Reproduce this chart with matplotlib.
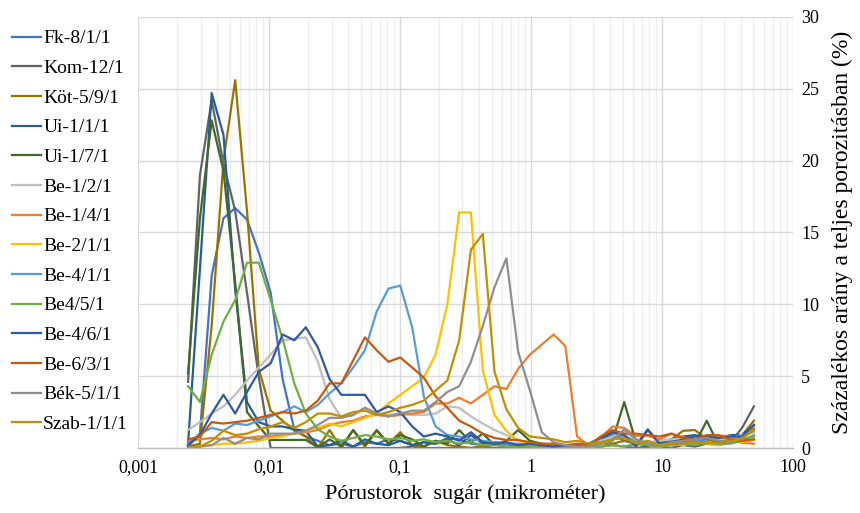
import matplotlib
matplotlib.use("Agg")
import matplotlib.pyplot as plt
from matplotlib.ticker import FixedLocator, NullFormatter

plt.rcParams['font.family'] = ['Liberation Serif', 'DejaVu Serif']

# pore throat radius (micrometre)
radius = [0.00241, 0.00297, 0.00365, 0.00449, 0.00552, 0.00679, 0.00836, 0.0103,
          0.0127, 0.0156, 0.0191, 0.0236, 0.029, 0.0357, 0.0439, 0.054, 0.0664,
          0.0817, 0.1005, 0.124, 0.152, 0.187, 0.230, 0.283, 0.348, 0.429, 0.527,
          0.649, 0.798, 0.982, 1.21, 1.49, 1.83, 2.25, 2.77, 3.40, 4.19, 5.15,
          6.34, 7.80, 9.59, 11.8, 14.5, 17.9, 22.0, 27.0, 33.3, 40.9, 50.4]

names = ['Fk-8/1/1', 'Kom-12/1', 'Köt-5/9/1', 'Ui-1/1/1', 'Ui-1/7/1', 'Be-1/2/1',
         'Be-1/4/1', 'Be-2/1/1', 'Be-4/1/1', 'Be4/5/1', 'Be-4/6/1', 'Be-6/3/1',
         'Bék-5/1/1', 'Szab-1/1/1']

fk_8_1_1 = [0.1, 1.0, 12.0, 16.0, 16.7, 15.9, 13.6, 10.8, 4.8, 1.3,
            0.8, 0.5, 0.2, 0.3, 0.1, 0.4, 0.3, 0.6, 0.5, 0.2, 0.4, 0.3, 0.7, 0.6, 0.3,
            0.2, 0.4, 0.3, 0.2, 0.1, 0.2, 0.1, 0.1,
            0.2, 0.1, 0.4, 0.9, 0.5, 0.3, 0.2, 0.4, 0.6, 0.4, 0.5, 0.6, 0.4, 0.7, 0.8, 1.3]
kom_12_1 = [4.6, 19.0, 24.2, 19.8, 16.5, 10.8, 4.9, 0.0,
            0.0, 0.0, 0.0, 0.0, 0.0, 0.0, 0.0, 0.0, 0.0, 0.0, 0.0, 0.1, 0.0, 0.0, 0.0,
            0.0, 0.0, 0.1, 0.0, 0.0, 0.0, 0.0, 0.0, 0.0, 0.0,
            0.0, 0.0, 0.1, 0.2, 0.1, 0.0, 0.1, 0.1, 0.0, 0.2, 0.1, 0.3, 0.2, 0.4, 1.4, 2.9]
kot_5_9_1 = [0.1, 0.3, 8.5, 20.0, 25.6, 16.5, 5.5, 2.6, 1.9, 1.2,
             0.8, 0.0, 1.25, 0.0, 1.25, 0.1, 1.2, 0.3, 1.1, 0.2, 0.1, 0.5, 0.2, 0.1,
             0.0, 0.1, 0.3, 0.1, 0.2, 0.1, 0.1, 0.0, 0.1,
             0.2, 0.1, 0.1, 0.3, 0.5, 0.4, 0.2, 0.3, 0.6, 1.2, 1.25, 0.6, 0.5, 0.7, 0.9, 1.9]
ui_1_1_1 = [0.3, 12.5, 24.7, 21.8, 11.0, 3.2, 1.8, 1.5, 1.5, 1.3,
            1.2, 0.1, 0.2, 0.5, 0.1, 0.6, 0.3, 0.2, 0.5, 0.2, 0.4, 0.3, 0.6, 0.2,
            0.9, 0.3, 0.4, 0.3, 0.2, 0.2, 0.1, 0.1, 0.1,
            0.1, 0.2, 0.5, 1.1, 0.8, 0.2, 1.3, 0.3, 0.6, 0.8, 0.9, 0.7, 0.6, 0.9, 0.9, 1.6]
ui_1_7_1 = [5.2, 16.0, 22.8, 19.3, 11.5, 2.5, 1.5, 0.56, 0.56, 0.56,
            0.56, 0.05, 0.6, 0.1, 1.25, 0.2, 1.25, 0.3, 0.9, 0.6, 0.1, 0.5, 0.3,
            1.25, 0.4, 1.0, 0.2, 0.5, 1.25, 0.5, 0.3, 0.2, 0.1,
            0.1, 0.0, 0.2, 0.5, 3.2, 0.4, 0.1, 0.3, 0.4, 0.5, 0.3, 1.9, 0.2, 0.5, 0.4, 0.6]
be_1_2_1 = [1.25, 1.8, 2.4, 2.9, 3.7, 4.7, 5.6, 6.5, 7.5, 7.6,
            7.7, 6.0, 3.4, 2.1, 2.3, 2.8, 2.4, 2.3, 2.4, 2.3, 2.3, 2.4, 2.9, 2.8,
            2.2, 1.7, 1.25, 0.9, 0.55, 0.3, 0.2, 0.2, 0.1,
            0.2, 0.3, 0.5, 0.8, 1.2, 0.6, 0.4, 0.5, 0.6, 0.7, 0.5, 0.8, 0.6, 0.7, 0.9, 1.1]
be_1_4_1 = [0.5, 0.6, 0.7, 0.6, 0.8, 0.7, 0.8, 0.8, 0.9, 1.0,
            1.1, 1.25, 1.6, 1.8, 1.9, 2.2, 2.3, 2.2, 2.3, 2.4, 2.5, 3.1, 3.1, 3.5,
            3.1, 3.7, 4.3, 4.1, 5.5, 6.5, 7.2, 7.9, 7.1,
            0.8, 0.15, 0.7, 1.5, 1.4, 0.85, 0.85, 0.6, 1.0, 0.75, 0.56, 0.8, 0.85, 0.85, 0.35, 0.3]
be_2_1_1 = [0.0, 0.1, 0.2, 0.3, 0.3, 0.4, 0.5, 0.7, 0.8, 1.0,
            1.2, 1.4, 1.7, 1.5, 1.8, 2.1, 2.4, 3.1, 3.7, 4.3, 4.9, 6.5, 10.0, 16.4,
            16.4, 5.4, 2.3, 1.2, 0.5, 0.3, 0.2, 0.1, 0.1,
            0.1, 0.0, 0.2, 0.6, 0.8, 0.5, 0.2, 0.1, 0.3, 0.2, 0.4, 0.3, 0.2, 0.5, 0.4, 0.6]
be_4_1_1 = [0.3, 1.0, 1.4, 1.2, 1.7, 1.6, 1.9, 2.2, 2.5, 2.9,
            2.5, 3.0, 3.8, 4.5, 5.6, 6.8, 9.5, 11.1, 11.3, 8.4, 3.6, 1.5, 0.9, 0.8,
            0.6, 0.5, 0.4, 0.3, 0.3, 0.2, 0.2, 0.1, 0.1,
            0.1, 0.1, 0.3, 0.6, 0.9, 0.4, 0.3, 0.2, 0.4, 0.3, 0.5, 0.4, 0.3, 0.5, 0.6, 0.8]
be4_5_1 = [4.3, 3.2, 6.5, 8.8, 10.3, 12.9, 12.9, 10.3, 7.6, 4.5,
           2.4, 1.3, 0.8, 0.5, 0.7, 0.9, 0.8, 0.6, 0.7, 0.5, 0.6, 0.4, 0.5, 0.3,
           0.4, 0.2, 0.2, 0.1, 0.1, 0.1, 0.0, 0.1, 0.0,
           0.0, 0.1, 0.1, 0.2, 0.1, 0.3, 0.2, 0.1, 0.2, 0.3, 0.2, 0.4, 0.3, 0.3, 0.5, 0.9]
be_4_6_1 = [0.2, 0.9, 2.4, 3.7, 2.4, 3.9, 5.3, 5.9, 7.9, 7.5,
            8.4, 7.0, 4.8, 3.7, 3.7, 3.7, 2.5, 2.9, 2.5, 1.5, 0.8, 1.0, 0.8, 0.5,
            1.1, 0.4, 0.3, 0.4, 0.2, 0.3, 0.2, 0.1, 0.2,
            0.2, 0.3, 0.7, 1.1, 0.9, 0.1, 1.25, 0.3, 0.4, 0.6, 0.8, 0.8, 0.7, 0.8, 0.8, 1.6]
be_6_3_1 = [0.6, 0.8, 1.8, 1.7, 1.8, 1.9, 2.1, 2.3, 2.5, 2.4,
            2.6, 3.3, 4.5, 4.5, 6.1, 7.7, 6.8, 6.0, 6.3, 5.6, 4.9, 3.6, 2.8, 1.9,
            1.5, 1.0, 0.7, 0.56, 0.56, 0.4, 0.3, 0.3, 0.2,
            0.3, 0.2, 0.8, 1.25, 1.0, 1.0, 0.9, 0.8, 1.0, 0.7, 0.6, 0.9, 0.9, 0.6, 0.5, 0.6]
bek_5_1_1 = [0.0, 0.1, 0.2, 0.7, 0.3, 0.7, 0.6, 1.0, 1.0, 1.0,
             1.2, 1.6, 2.1, 2.1, 2.3, 2.8, 2.4, 2.2, 2.4, 2.6, 2.6, 3.2, 3.9, 4.3,
             6.0, 8.5, 11.2, 13.2, 6.7, 4.0, 1.1, 0.4, 0.2,
             0.1, 0.1, 0.3, 0.5, 1.3, 0.6, 0.3, 0.2, 0.4, 0.5, 0.6, 0.7, 0.5, 0.4, 0.7, 1.2]
szab_1_1_1 = [0.0, 0.1, 0.5, 1.2, 0.9, 1.0, 1.3, 1.5, 1.8, 1.4,
              1.8, 2.4, 2.4, 2.2, 2.5, 2.6, 2.3, 2.5, 2.8, 3.0, 3.3, 4.0, 4.7, 7.5,
              13.8, 14.9, 5.3, 2.7, 1.4, 0.8, 0.7, 0.6, 0.4,
              0.5, 0.3, 0.4, 0.6, 0.7, 0.3, 0.5, 0.2, 0.3, 0.3, 0.4, 0.3, 0.4, 0.5, 0.6, 1.4]

series = [fk_8_1_1, kom_12_1, kot_5_9_1, ui_1_1_1, ui_1_7_1, be_1_2_1, be_1_4_1,
          be_2_1_1, be_4_1_1, be4_5_1, be_4_6_1, be_6_3_1, bek_5_1_1, szab_1_1_1]
colors = ['#4472C4', '#636363', '#997300', '#255E91', '#43682B', '#BFBFBF',
          '#ED7D31', '#FFC000', '#5B9BD5', '#70AD47', '#3159A6', '#C55A11',
          '#8F8F8F', '#BF9000']

x_ticks = [0.001, 0.01, 0.1, 1, 10, 100]
x_tick_labels = ['0,001', '0,01', '0,1', '1', '10', '100']
y_ticks = [0, 5, 10, 15, 20, 25, 30]

fig = plt.figure(figsize=(8.6, 5.13), dpi=100)
ax = fig.add_axes([0.1605, 0.1267, 0.922 - 0.1605, 0.9669 - 0.1267])

for name, vals, col in zip(names, series, colors):
    ax.plot(radius, vals, color=col, lw=1.6, label=name, solid_joinstyle='round')

ax.set_xscale('log')
ax.set_xlim(0.001, 100)
ax.set_ylim(0, 30)
ax.set_xticks(x_ticks)
ax.set_xticklabels(x_tick_labels)
minor = [m * 10.0 ** e for e in range(-3, 2) for m in range(2, 10)]
ax.xaxis.set_minor_locator(FixedLocator(minor))
ax.xaxis.set_minor_formatter(NullFormatter())
ax.set_yticks(y_ticks)
ax.yaxis.tick_right()
ax.yaxis.set_label_position('right')

ax.grid(True, which='major', axis='both', color='#D9D9D9', lw=1.0, zorder=0)
ax.grid(True, which='minor', axis='x', color='#EEEEEE', lw=1.0, zorder=0)
ax.set_axisbelow(True)

for s in ['top', 'left', 'right']:
    ax.spines[s].set_visible(False)
ax.spines['bottom'].set_color('#BFBFBF')
ax.spines['bottom'].set_linewidth(1.0)

ax.tick_params(axis='both', which='both', length=0, labelsize=13, colors='#000000')
ax.tick_params(axis='x', pad=8)
ax.tick_params(axis='y', pad=6)

ax.set_xlabel('Pórustorok  sugár (mikrométer)', fontsize=16, labelpad=6)
ax.set_ylabel('Százalékos arány a teljes porozitásban (%)', fontsize=17, labelpad=9)

fig.legend(loc='upper left', bbox_to_anchor=(0.005, 0.957), frameon=False,
           fontsize=14, handlelength=1.5, handletextpad=0.1, labelspacing=0.62,
           borderaxespad=0.0)

fig.savefig('out.png', dpi=100)
